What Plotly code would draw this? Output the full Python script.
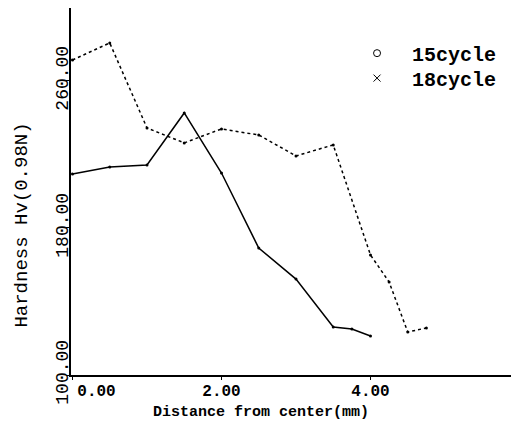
import plotly.graph_objects as go

x15 = [0.0, 0.5, 1.0, 1.5, 2.0, 2.5, 3.0, 3.5, 3.75, 4.0]
y15 = [209.4, 213.2, 214.3, 242.6, 209.9, 169.1, 152.2, 126.1, 125.0, 121.2]

x18 = [0.0, 0.5, 1.0, 1.5, 2.0, 2.5, 3.0, 3.5, 4.0, 4.25, 4.5, 4.75]
y18 = [271.4, 280.7, 234.4, 226.3, 233.9, 230.6, 219.2, 225.2, 165.3, 150.6, 123.4, 125.6]

xticks = [0, 2, 4]
# the first label sits to the right of its tick in the original print
xticklabels = ["\u00a0\u00a0\u00a0\u00a0\u00a00.00", "2.00", "4.00"]
yticks = [100, 180, 260]
yticklabels = ["100.00", "180.00", "260.00"]
names = ["15cycle", "18cycle"]
x_title = "Distance from center(mm)"
y_title = "Hardness Hv(0.98N)"

FONT = "Liberation Mono"

fig = go.Figure()
fig.add_trace(go.Scatter(x=x15, y=y15, mode="lines+markers",
                         line=dict(color="black", width=1.5),
                         marker=dict(size=3, color="black"),
                         showlegend=False))
fig.add_trace(go.Scatter(x=x18, y=y18, mode="lines+markers",
                         line=dict(color="black", width=1.5, dash="dot"),
                         marker=dict(size=3, color="black"),
                         showlegend=False))
# legend entries (one legend box each, so the row spacing can match)
fig.add_trace(go.Scatter(x=[None], y=[None], mode="markers", name=names[0],
                         legend="legend",
                         marker=dict(symbol="circle-open", size=7, color="black", line=dict(width=1))))
fig.add_trace(go.Scatter(x=[None], y=[None], mode="markers", name=names[1],
                         legend="legend2",
                         marker=dict(symbol="x-thin-open", size=7, color="black", line=dict(width=1))))

leg = dict(xanchor="left", yanchor="middle", bgcolor="rgba(0,0,0,0)",
           font=dict(family=FONT, size=20, weight="bold"), itemwidth=60)

fig.update_layout(
    width=503, height=415,
    margin=dict(l=63, r=0, t=0, b=48, autoexpand=False),
    paper_bgcolor="white", plot_bgcolor="white",
    font=dict(family=FONT, size=14, color="black"),
    legend=dict(leg, x=0.616, y=0.877),
    legend2=dict(leg, x=0.616, y=0.809),
    xaxis=dict(range=[-0.02, 5.886], tickvals=xticks, ticktext=xticklabels,
               automargin=False, ticklabelstandoff=-3,
               showgrid=False, zeroline=False,
               showline=True, linecolor="black", linewidth=2, mirror=True,
               ticks="outside", ticklen=3, tickcolor="black",
               tickfont=dict(family=FONT, size=16, weight="bold")),
    yaxis=dict(range=[100, 299.7], tickvals=yticks, ticktext=yticklabels,
               tickangle=-90, automargin=False, ticklabelstandoff=-9,
               showgrid=False, zeroline=False,
               showline=True, linecolor="black", linewidth=2, mirror=True,
               ticks="outside", ticklen=3, tickcolor="black",
               tickfont=dict(family=FONT, size=18)),
    annotations=[
        dict(text=x_title, xref="paper", yref="paper", x=0.432, y=-0.101,
             xanchor="center", yanchor="middle", showarrow=False, borderpad=0,
             font=dict(family=FONT, size=15, weight="bold")),
        dict(text=y_title, xref="paper", yref="paper", x=-0.112, y=0.409,
             xanchor="center", yanchor="middle", showarrow=False, textangle=-90,
             borderpad=0, font=dict(family=FONT, size=19)),
    ],
)

fig.write_html("out.html")
